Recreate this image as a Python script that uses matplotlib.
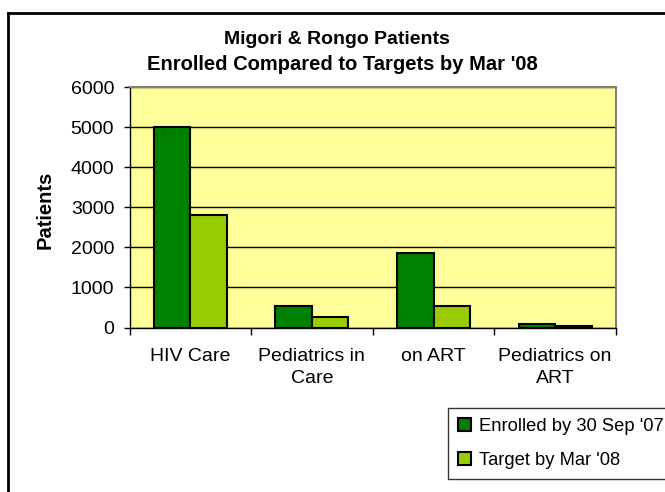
import matplotlib
matplotlib.use("Agg")
import matplotlib.pyplot as plt
import numpy as np
from matplotlib.lines import Line2D

categories = ["HIV Care", "Pediatrics in\nCare", "on ART", "Pediatrics on\nART"]
enrolled = [5000, 530, 1860, 75]
target = [2800, 258, 530, 33]
series_names = ["Enrolled by 30 Sep '07", "Target by Mar '08"]
yticks = [0, 1000, 2000, 3000, 4000, 5000, 6000]

plt.rcParams['font.family'] = ['Liberation Sans', 'DejaVu Sans']

W, H = 665, 492
fig = plt.figure(figsize=(W / 100, H / 100), dpi=100)
fig.patch.set_facecolor('white')

left, right, top, bottom = 129.5, 616, 87, 327.5
ax = fig.add_axes([left / W, 1 - bottom / H, (right - left) / W, (bottom - top) / H])
ax.set_facecolor('#FFFF99')

x = np.arange(len(categories))
bw = 0.3
ax.bar(x - bw / 2, enrolled, bw, color='#008000', edgecolor='black', linewidth=1.5,
       label=series_names[0], zorder=3)
ax.bar(x + bw / 2, target, bw, color='#99CC00', edgecolor='black', linewidth=1.5,
       label=series_names[1], zorder=3)

ax.set_xlim(-0.5, len(categories) - 0.5)
ax.set_ylim(0, 6000)
ax.set_yticks(yticks)
ax.yaxis.grid(True, color='black', linewidth=1, zorder=1)
ax.set_axisbelow(True)

ax.set_xticks(x)
ax.set_xticklabels(categories, fontsize=14, linespacing=1.35)
ax.set_xticks(np.arange(len(categories) + 1) - 0.5, minor=True)
ax.tick_params(axis='x', which='major', length=0, pad=15)
ax.tick_params(axis='x', which='minor', length=5, width=1, color='black', direction='out')
ax.tick_params(axis='y', length=4, width=1, direction='out', labelsize=14, pad=7)

for s in ['top', 'right']:
    ax.spines[s].set_color('#808080')
    ax.spines[s].set_linewidth(1.5)
for s in ['left', 'bottom']:
    ax.spines[s].set_color('black')
    ax.spines[s].set_linewidth(1)

fig.text(45 / W, 1 - 210 / H, 'Patients', rotation=90, ha='center', va='center',
         fontsize=14.5, fontweight='bold')

fig.text(337 / W, 1 - 40 / H, 'Migori & Rongo Patients', ha='center', va='center',
         fontsize=14, fontweight='bold')
fig.text(342 / W, 1 - 65 / H, "Enrolled Compared to Targets by Mar '08", ha='center',
         va='center', fontsize=14.5, fontweight='bold')

leg = fig.legend(loc='upper left', bbox_to_anchor=(448 / W, 1 - 408 / H), fontsize=13.2,
                 frameon=True, fancybox=False, edgecolor='black', handlelength=0.7,
                 handleheight=0.7, handletextpad=0.45, labelspacing=0.9,
                 borderpad=0.55, borderaxespad=0)
leg.get_frame().set_linewidth(1)

fig.add_artist(Line2D([8 / W, 1.0], [1 - 13 / H, 1 - 13 / H], color='black', linewidth=2,
                      transform=fig.transFigure))
fig.add_artist(Line2D([8 / W, 8 / W], [0, 1 - 13 / H], color='black', linewidth=2,
                      transform=fig.transFigure))

fig.savefig('out.png', dpi=100)
